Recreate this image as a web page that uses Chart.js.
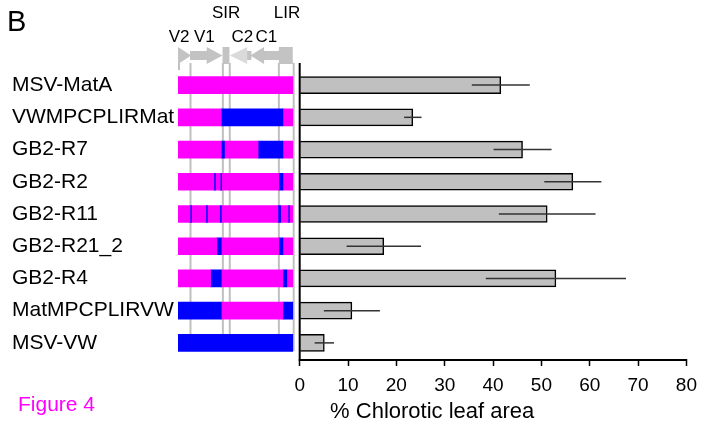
<!DOCTYPE html>
<html>
<head>
<meta charset="utf-8">
<script src="https://cdn.jsdelivr.net/npm/chart.js@4"></script>
<style>
  html, body { margin: 0; padding: 0; background: #fff; }
  #wrap { width: 705px; height: 424px; }
</style>
</head>
<body>
<div id="wrap"><canvas id="barChart"></canvas></div>
<script>
// datos
const strains = ['MSV-MatA', 'VWMPCPLIRMat', 'GB2-R7', 'GB2-R2', 'GB2-R11', 'GB2-R21_2', 'GB2-R4', 'MatMPCPLIRVW', 'MSV-VW'];
const chloroticArea = [41.6, 23.4, 46.1, 56.5, 51.2, 17.4, 53.0, 10.8, 5.1];
const chloroticErr = [6.0, 1.8, 6.0, 5.9, 10.0, 7.7, 14.5, 5.8, 2.0];
const xTicks = [0, 10, 20, 30, 40, 50, 60, 70, 80];
const xTickLabels = ['0', '10', '20', '30', '40', '50', '60', '70', '80'];

// mapas genomicos (0-100 % del genoma), M = MatA, B = VW
const genomeMaps = [
  [[0, 100, 'M']],
  [[0, 37.7, 'M'], [37.7, 91.4, 'B'], [91.4, 100, 'M']],
  [[0, 37.7, 'M'], [37.7, 40.5, 'B'], [40.5, 69.8, 'M'], [69.8, 91.4, 'B'], [91.4, 100, 'M']],
  [[0, 31.3, 'M'], [31.3, 32.6, 'B'], [32.6, 36.8, 'M'], [36.8, 38.1, 'B'], [38.1, 87.9, 'M'], [87.9, 91.4, 'B'], [91.4, 100, 'M']],
  [[0, 10.5, 'M'], [10.5, 11.8, 'B'], [11.8, 24.3, 'M'], [24.3, 25.6, 'B'], [25.6, 36.4, 'M'], [36.4, 37.7, 'B'], [37.7, 87.1, 'M'], [87.1, 89.4, 'B'], [89.4, 95.9, 'M'], [95.9, 97.2, 'B'], [97.2, 100, 'M']],
  [[0, 33.9, 'M'], [33.9, 37.7, 'B'], [37.7, 87.9, 'M'], [87.9, 91.4, 'B'], [91.4, 100, 'M']],
  [[0, 28.4, 'M'], [28.4, 37.7, 'B'], [37.7, 91.4, 'M'], [91.4, 94.8, 'B'], [94.8, 100, 'M']],
  [[0, 37.7, 'B'], [37.7, 91.4, 'M'], [91.4, 100, 'B']],
  [[0, 100, 'B']]
];
const genomeGuides = [10.9, 39.1, 45.1, 87.9, 100.8];
const genomeLabels = [['V2', 0.9, 42], ['V1', 23, 42], ['C2', 56, 42], ['C1', 77, 42], ['SIR', 42, 18], ['LIR', 95, 18]];

const FONT = "'Liberation Sans', Arial, sans-serif";
const COLORS = { M: '#ff00ff', B: '#0000ff' };
const X_MIN = -25.17;
const GENOME_X0 = -25.17;
const GENOME_X1 = -1.43;

function genomeToX(g) {
  return GENOME_X0 + g / 100 * (GENOME_X1 - GENOME_X0);
}

function crearDatasetsGenoma() {
  const maxSeg = Math.max(...genomeMaps.map(m => m.length));
  const sets = [];
  for (let k = 0; k < maxSeg; k++) {
    sets.push({
      data: genomeMaps.map(m => m[k] ? [genomeToX(m[k][0]), genomeToX(m[k][1])] : null),
      backgroundColor: genomeMaps.map(m => m[k] ? COLORS[m[k][2]] : 'transparent'),
      borderWidth: 0,
      barThickness: 17,
      grouped: false,
      order: 2
    });
  }
  return sets;
}

// 🟦 guias y cabecera del mapa
const genomePlugin = {
  id: 'genomePlugin',
  beforeDatasetsDraw(chart) {
    const { ctx, scales: { x } } = chart;
    const gx = g => x.getPixelForValue(genomeToX(g));
    ctx.save();
    ctx.strokeStyle = '#c0c0c0';
    ctx.lineWidth = 2;
    genomeGuides.forEach(g => {
      ctx.beginPath();
      ctx.moveTo(gx(g), 63);
      ctx.lineTo(gx(g), 351);
      ctx.stroke();
    });
    ctx.beginPath();
    ctx.moveTo(gx(0) + 1, 60);
    ctx.lineTo(gx(0) + 1, 70);
    ctx.stroke();

    const top = 47, bot = 64, mid = 55.5, sT = 51, sB = 60;
    ctx.fillStyle = '#c3c3c3';
    // V2
    ctx.beginPath();
    ctx.moveTo(gx(0), top); ctx.lineTo(gx(11.5), mid); ctx.lineTo(gx(0), bot);
    ctx.closePath(); ctx.fill();
    // V1
    ctx.beginPath();
    ctx.moveTo(gx(10.5), sT); ctx.lineTo(gx(25), sT); ctx.lineTo(gx(25), top);
    ctx.lineTo(gx(38.8), mid); ctx.lineTo(gx(25), bot); ctx.lineTo(gx(25), sB);
    ctx.lineTo(gx(10.5), sB); ctx.closePath(); ctx.fill();
    // SIR
    ctx.fillRect(gx(38.8), top, gx(44.8) - gx(38.8), bot - top);
    // C1 + eje
    ctx.beginPath();
    ctx.moveTo(gx(88), sT); ctx.lineTo(gx(75), sT); ctx.lineTo(gx(75), top);
    ctx.lineTo(gx(63), mid); ctx.lineTo(gx(75), bot); ctx.lineTo(gx(75), sB);
    ctx.lineTo(gx(88), sB); ctx.closePath(); ctx.fill();
    ctx.fillRect(gx(57), sT, gx(64) - gx(57), sB - sT);
    // LIR
    ctx.fillRect(gx(87.9), top, gx(100) - gx(87.9), bot - top);
    // C2 (rayado)
    ctx.fillStyle = '#dadada';
    ctx.beginPath();
    ctx.moveTo(gx(45.2), mid); ctx.lineTo(gx(60.3), top); ctx.lineTo(gx(60.3), bot);
    ctx.closePath(); ctx.fill();

    // textos
    ctx.fillStyle = '#000';
    ctx.textAlign = 'center';
    ctx.textBaseline = 'alphabetic';
    ctx.font = '17px ' + FONT;
    genomeLabels.forEach(([t, g, y]) => ctx.fillText(t, gx(g), y));
    ctx.textAlign = 'left';
    ctx.font = '29px ' + FONT;
    ctx.fillText('B', 7, 31);
    ctx.fillStyle = '#ff00ff';
    ctx.font = '21px ' + FONT;
    ctx.fillText('Figure 4', 18, 411);
    ctx.restore();
  }
};

// 📋 barras de error y ejes
const errorPlugin = {
  id: 'errorPlugin',
  afterDatasetsDraw(chart) {
    const { ctx, chartArea, scales: { x } } = chart;
    const meta = chart.getDatasetMeta(0);
    ctx.save();
    ctx.strokeStyle = '#333';
    ctx.lineWidth = 1.5;
    meta.data.forEach((bar, i) => {
      ctx.beginPath();
      ctx.moveTo(x.getPixelForValue(chloroticArea[i] - chloroticErr[i]), bar.y);
      ctx.lineTo(x.getPixelForValue(chloroticArea[i] + chloroticErr[i]), bar.y);
      ctx.stroke();
    });
    ctx.strokeStyle = '#000';
    ctx.lineWidth = 2;
    const x0 = x.getPixelForValue(0);
    ctx.beginPath();
    ctx.moveTo(x0, 63);
    ctx.lineTo(x0, chartArea.bottom + 1);
    ctx.lineTo(x.getPixelForValue(80), chartArea.bottom + 1);
    ctx.stroke();
    ctx.restore();
  }
};

function dibujarGrafico() {
  const ctx = document.getElementById('barChart').getContext('2d');
  new Chart(ctx, {
    type: 'bar',
    data: {
      labels: strains,
      datasets: [{
        label: '% Chlorotic leaf area',
        data: chloroticArea,
        backgroundColor: '#c0c0c0',
        borderColor: '#000',
        borderWidth: 1.5,
        barThickness: 17,
        grouped: false,
        order: 1
      }, ...crearDatasetsGenoma()]
    },
    options: {
      indexAxis: 'y',
      responsive: true,
      maintainAspectRatio: false,
      animation: false,
      layout: { padding: { left: 12, right: 13, top: 69, bottom: 0 } },
      plugins: { legend: { display: false }, tooltip: { enabled: false } },
      scales: {
        x: {
          type: 'linear',
          min: X_MIN,
          max: 80,
          afterBuildTicks: s => { s.ticks = xTicks.map(v => ({ value: v })); },
          afterFit: s => { s.height = 65; },
          grid: { drawOnChartArea: false, drawTicks: true, tickLength: 7, tickColor: '#000', tickWidth: 1.5 },
          border: { display: false },
          ticks: {
            padding: 8,
            color: '#000',
            font: { family: FONT, size: 19 },
            callback: (v, i) => xTickLabels[i]
          },
          title: {
            display: true,
            text: '% Chlorotic leaf area',
            color: '#000',
            font: { family: FONT, size: 22, lineHeight: 1.1 },
            padding: { top: 0, bottom: 0 }
          }
        },
        y: {
          afterFit: s => { s.width = 166; },
          grid: { display: false },
          border: { display: false },
          ticks: {
            crossAlign: 'far',
            color: '#000',
            font: { family: FONT, size: 21 }
          }
        }
      }
    },
    plugins: [genomePlugin, errorPlugin]
  });
}

document.addEventListener('DOMContentLoaded', dibujarGrafico);
</script>
</body>
</html>
